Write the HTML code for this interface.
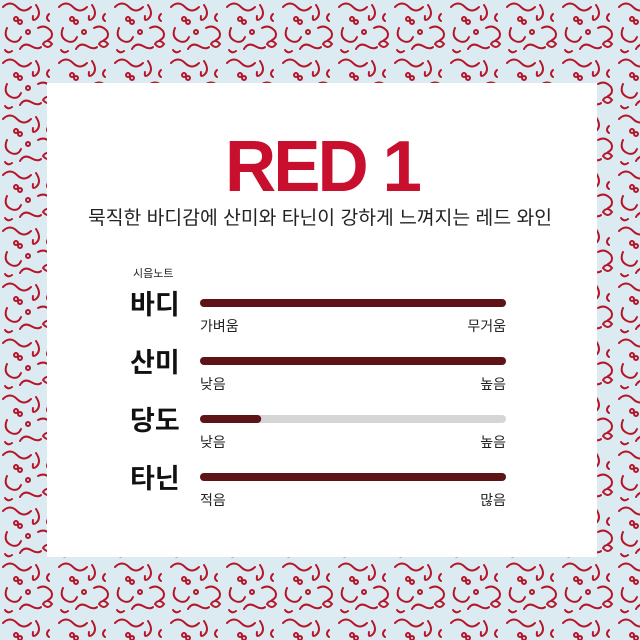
<!DOCTYPE html>
<html><head><meta charset="utf-8"><style>
body{margin:0;width:640px;height:640px;overflow:hidden;font-family:"Liberation Sans","Noto Sans CJK KR",sans-serif}
#bg{position:absolute;left:0;top:0}
#card{position:absolute;left:47px;top:83px;width:550px;height:474px;background:#fff}
</style></head><body>
<svg id="bg" width="640" height="640">
<defs><pattern id="p" width="56" height="56" patternUnits="userSpaceOnUse">
<rect width="56" height="56" fill="#dcebf2"/>
<g fill="none" stroke="#b5172a" stroke-width="2" stroke-linecap="round">
<path d="M3 7 q7 -7 14 0 t14 0"/><path d="M36 5 q6 9 0 14 q-4 3 -3 -3"/>
<path d="M7 28 q-4 9 4 13 q7 3 10 -4"/><circle cx="28" cy="32" r="2"/>
<path d="M38 28 q7 -4 13 3 q3 6 -3 9"/><path d="M20 49 q4 -7 11 -3 t10 1"/>
<path d="M43 44 q4 -6 9 0 q-4 6 -9 0z"/><path d="M5 50 q3 4 7 1"/>
<circle cx="16" cy="19" r="2"/><circle cx="20" cy="22" r="2"/>
<path d="M49 14 q-4 4 0 7"/></g></pattern></defs>
<rect width="640" height="640" fill="url(#p)"/></svg>
<div id="card"></div>
<svg id="chart" style="position:absolute;left:0;top:0" width="640" height="640">
<text x="322" y="191" text-anchor="middle" font-size="72" font-weight="bold" fill="#c8102e" style="letter-spacing:-3px" textLength="194" lengthAdjust="spacingAndGlyphs">RED 1</text>
<text x="320" y="224" text-anchor="middle" font-size="19" fill="#222" textLength="464" lengthAdjust="spacingAndGlyphs">묵직한 바디감에 산미와 타닌이 강하게 느껴지는 레드 와인</text>
<text x="133" y="277" font-size="11" fill="#222">시음노트</text>
<g id="rows"></g>
</svg>
<script>
const categories=["바디","산미","당도","타닌"];
const values=[5,5,1,5];
const lowLabels=["가벼움","낮음","낮음","적음"];
const highLabels=["무거움","높음","높음","많음"];
const maxValue=5;
const x0=200,x1=506,yStart=303,step=58;
const xs=v=>x0+(x1-x0)*v/maxValue;
const ns="http://www.w3.org/2000/svg";
const g=document.getElementById('rows');
function mk(t,a,txt){const e=document.createElementNS(ns,t);for(const k in a)e.setAttribute(k,a[k]);if(txt)e.textContent=txt;g.appendChild(e);return e;}
categories.forEach((c,i)=>{
const y=yStart+i*step;
let e=mk('text',{x:130,y:y+11,'font-size':27,'font-weight':'bold',fill:'#111'},c);


e=mk('rect',{x:x0,y:y-4,width:x1-x0,height:8,rx:4,fill:'#d6d6d6'});


e=mk('rect',{x:x0,y:y-4,width:xs(values[i])-x0,height:8,rx:4,fill:'#5e1416'});


e=mk('text',{x:x0,y:y+28,'font-size':14,fill:'#222'},lowLabels[i]);


e=mk('text',{x:x1,y:y+28,'font-size':14,fill:'#222','text-anchor':'end'},highLabels[i]);


});
</script>
</body></html>
